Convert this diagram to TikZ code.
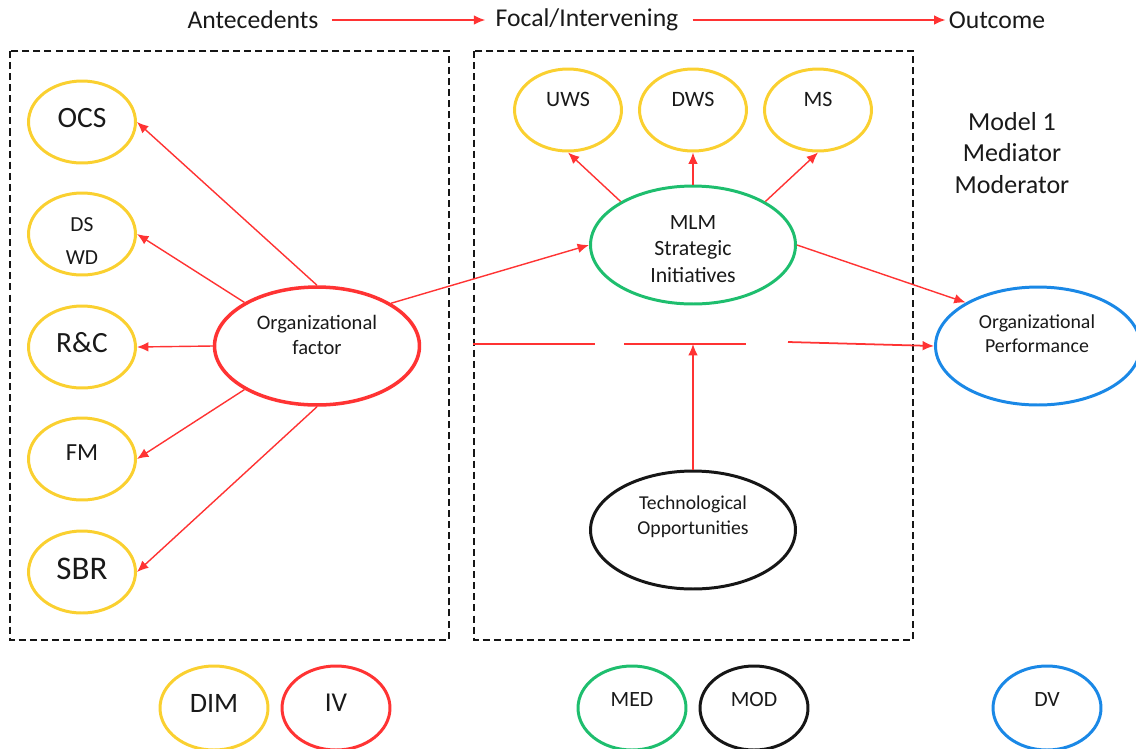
\documentclass[tikz,border=0pt]{standalone}
\usepackage{fontspec}
\setmainfont{Carlito}
\usetikzlibrary{shapes.geometric,arrows.meta}

\definecolor{dimyellow}{RGB}{250,208,48}
\definecolor{ivred}{RGB}{255,51,51}
\definecolor{linkred}{RGB}{255,51,51}
\definecolor{medgreen}{RGB}{30,190,110}
\definecolor{dvblue}{RGB}{26,136,230}
\definecolor{modblack}{RGB}{22,22,22}
\definecolor{textgray}{RGB}{25,25,25}

\newcommand\setfs[2]{\fontsize{#1pt}{#2pt}\selectfont}

\begin{document}
\begin{tikzpicture}[x=0.02cm,y=-0.02cm,
  oval/.style={ellipse,inner sep=0pt,line width=1.7pt},
  smalloval/.style={oval,minimum width=2.14cm,minimum height=1.64cm},
  bigoval/.style={oval,minimum width=4.1cm,minimum height=2.36cm},
  legendoval/.style={oval,minimum width=2.16cm,minimum height=1.68cm},
  dimnode/.style={smalloval,draw=dimyellow},
  ivnode/.style={bigoval,draw=ivred,line width=2pt},
  mednode/.style={bigoval,draw=medgreen},
  modnode/.style={bigoval,draw=modblack},
  dvnode/.style={bigoval,draw=dvblue},
  lbl/.style={inner sep=0pt,text=textgray,align=center},
  hdr/.style={lbl,font=\setfs{14.6}{17}},
  link/.style={draw=linkred,line width=0.8pt,-{Latex[length=6.5pt,width=5.5pt]}},
  modline/.style={draw=linkred,line width=1pt},
  groupbox/.style={draw=modblack,line width=0.75pt,dash pattern=on 4pt off 2.3pt},
]
\useasboundingbox (0,0) rectangle (1136,748);

% header row
\node[hdr] (ante) at (253,20) {Antecedents};
\node[hdr] (focal) at (587,20) {Focal/Intervening};
\node[hdr] (outc) at (997,20) {Outcome};
\draw[link,line width=1pt,shorten <=0.26cm,shorten >=0.2cm] (ante.east) -- (focal.west);
\draw[link,line width=1pt,shorten <=0.28cm,shorten >=0.06cm] (focal.east) -- (outc.west);

% dashed group frames
\draw[groupbox] (10,51) rectangle (449,640);
\draw[groupbox] (474,51) rectangle (913,640);

% dimensions of the organizational factor
\node[dimnode] (ocs) at (82,122) {};
\node[lbl,font=\setfs{16.8}{20}] (ocs-t) at (82,118) {OCS};
\node[dimnode] (dswd) at (82,234) {};
\node[lbl,font=\setfs{12.2}{19.3}] (dswd-t) at (82,241) {DS\\WD};
\node[dimnode] (rc) at (82,347) {};
\node[lbl,font=\setfs{16.7}{20}] (rc-t) at (82,343) {R\&C};
\node[dimnode] (fm) at (82,459) {};
\node[lbl,font=\setfs{14}{17}] (fm-t) at (82,453) {FM};
\node[dimnode] (sbr) at (82,572) {};
\node[lbl,font=\setfs{18.8}{22}] (sbr-t) at (82,569) {SBR};

% independent variable
\node[ivnode] (org) at (317,346) {};
\node[lbl,font=\setfs{11.7}{14.2}] (org-t) at (317,335) {Organizational\\factor};

% mediator and its dimensions
\node[dimnode] (uws) at (568,110) {};
\node[lbl,font=\setfs{12.5}{15}] (uws-t) at (568,99) {UWS};
\node[dimnode] (dws) at (693,110) {};
\node[lbl,font=\setfs{12.5}{15}] (dws-t) at (693,99) {DWS};
\node[dimnode] (ms) at (818,110) {};
\node[lbl,font=\setfs{12.5}{15}] (ms-t) at (818,99) {MS};
\node[mednode] (mlm) at (693,245) {};
\node[lbl,font=\setfs{12.4}{15.3}] (mlm-t) at (693,249) {MLM\\Strategic\\Initiatives};

% moderator
\node[modnode] (tech) at (693,530) {};
\node[lbl,font=\setfs{11.2}{14.2}] (tech-t) at (693,517) {Technological\\Opportunities};

% dependent variable
\node[dvnode] (perf) at (1038,346) {};
\node[lbl,font=\setfs{11.3}{13.6}] (perf-t) at (1037,334) {Organizational\\Performance};

% model caption
\node[lbl,font=\setfs{14.8}{18.1}] (model) at (1012,153) {Model 1\\Mediator\\Moderator};

% arrows from the organizational factor
\draw[link] (org.north) -- (ocs.east);
\draw[link] (org.149) -- (dswd.east);
\draw[link] (org.west) -- (rc.east);
\draw[link] (org.211) -- (fm.east);
\draw[link] (org.south) -- (sbr.east);
\draw[link] (org.30) -- (mlm.west);

% arrows from the mediator
\draw[link] (mlm.149) -- (uws.south);
\draw[link] (mlm.north) -- (dws.south);
\draw[link] (mlm.31) -- (ms.south);
\draw[link] (mlm.east) -- (perf.149);

% moderated path to performance
\coordinate (h1a) at (473,344);
\coordinate (h1b) at (595,344);
\coordinate (h2a) at (624,344);
\coordinate (h2b) at (746,344);
\coordinate (h3a) at (788,342);
\coordinate (tmeet) at (693,344);
\draw[modline] (h1a) -- (h1b);
\draw[modline] (h2a) -- (h2b);
\draw[link,line width=1pt] (h3a) -- (perf.west);
\draw[link] (tech.north) -- (tmeet);

% legend
\node[legendoval,draw=dimyellow] (leg-dim) at (214,708) {};
\node[lbl,font=\setfs{16}{19}] (leg-dim-t) at (214,703) {DIM};
\node[legendoval,draw=ivred] (leg-iv) at (336,708) {};
\node[lbl,font=\setfs{15.5}{19}] (leg-iv-t) at (336,703) {IV};
\node[legendoval,draw=medgreen] (leg-med) at (632,708) {};
\node[lbl,font=\setfs{12.4}{15}] (leg-med-t) at (632,699) {MED};
\node[legendoval,draw=modblack] (leg-mod) at (754,708) {};
\node[lbl,font=\setfs{12.4}{15}] (leg-mod-t) at (754,699) {MOD};
\node[legendoval,draw=dvblue] (leg-dv) at (1047,708) {};
\node[lbl,font=\setfs{12.4}{15}] (leg-dv-t) at (1047,699) {DV};
\end{tikzpicture}
\end{document}
